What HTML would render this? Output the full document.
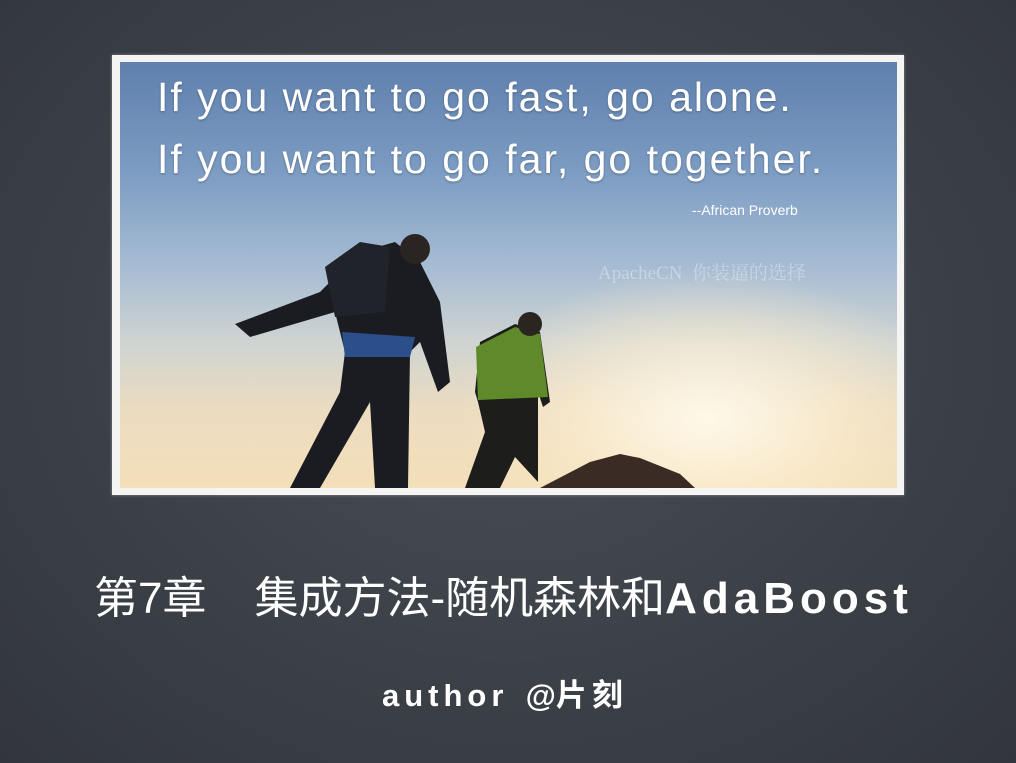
<!DOCTYPE html>
<html><head><meta charset="utf-8"><style>
html,body{margin:0;padding:0}
body{width:1016px;height:763px;overflow:hidden;position:relative;
background:radial-gradient(ellipse at 50% 45%,#4a4f57 0%,#3c4148 55%,#32363c 100%);
font-family:"Liberation Sans","Noto Sans CJK SC",sans-serif}
#frame{position:absolute;left:112px;top:55px;width:792px;height:440px;background:#f4f4f2;
box-shadow:0 0 3px rgba(255,255,255,.4)}
#photo{position:absolute;left:8px;top:7px;width:777px;height:426px;overflow:hidden;
background:linear-gradient(180deg,#5f80ad 0%,#7b9bc2 25%,#a6bcd3 48%,#cfd4d2 66%,#ecdcc0 82%,#f3dfb8 100%)}
#glow{position:absolute;right:-60px;bottom:-80px;width:500px;height:300px;border-radius:50%;
background:radial-gradient(ellipse,rgba(255,250,235,.95) 0%,rgba(255,240,210,.5) 40%,rgba(255,240,210,0) 70%)}
.q{position:absolute;color:#fff;font-size:41px;letter-spacing:2px;left:37px;text-shadow:0 1px 2px rgba(0,0,0,.3)}
.t{position:absolute;color:#fff;white-space:nowrap}
</style></head><body>
<div id="frame">
 <div id="photo">
  <div id="glow"></div>
  <div class="q" style="top:12px">If you want to go fast, go alone.</div>
  <div class="q" style="top:74px">If you want to go far, go together.</div>
  <div class="t" style="left:572px;top:140px;font-size:14px">--African Proverb</div>
  <div class="t" style="left:478px;top:196px;font-size:19px;color:rgba(255,255,255,.35);font-family:'Liberation Serif','Noto Serif CJK SC',serif">ApacheCN&nbsp; 你装逼的选择</div>
  <svg width="777" height="426" style="position:absolute;left:0;top:0">
   <path d="M420 426 L470 400 L500 392 L520 396 L560 412 L575 426 Z" fill="#3a2c24"/>
   <path d="M115 262 L200 230 L225 205 L240 190 L275 180 L300 200 L320 240 L330 320 L318 330 L300 280 L290 290 L288 426 L255 426 L250 340 L200 426 L170 426 L220 330 L225 290 L215 250 L130 275 Z" fill="#1b1c22"/>
   <path d="M205 205 L240 180 L270 185 L265 250 L215 255 Z" fill="#20232a"/>
   <path d="M222 270 L295 275 L290 295 L225 295 Z" fill="#2b4f8a"/>
   <circle cx="295" cy="187" r="15" fill="#2a2522"/>
   <path d="M360 280 L395 262 L420 270 L430 340 L423 345 L418 330 L418 420 L395 395 L380 426 L345 426 L365 370 L358 340 L355 330 Z" fill="#1d1e1c"/>
   <path d="M356 285 L395 265 L420 272 L428 335 L358 338 Z" fill="#5f8a2a"/>
   <circle cx="410" cy="262" r="12" fill="#2a2520"/>
  </svg>
 </div>
</div>
<div class="t" style="left:94px;top:562px;font-size:44px">第7章<span style="display:inline-block;width:48px"></span>集成方法-随机森林和<span style="letter-spacing:5px;font-weight:bold">AdaBoost</span></div>
<div class="t" style="left:382px;top:670px;font-size:31px;font-weight:bold"><span style="letter-spacing:5px">author</span> &nbsp;@<span style="letter-spacing:5px">片刻</span></div>
</body></html>
